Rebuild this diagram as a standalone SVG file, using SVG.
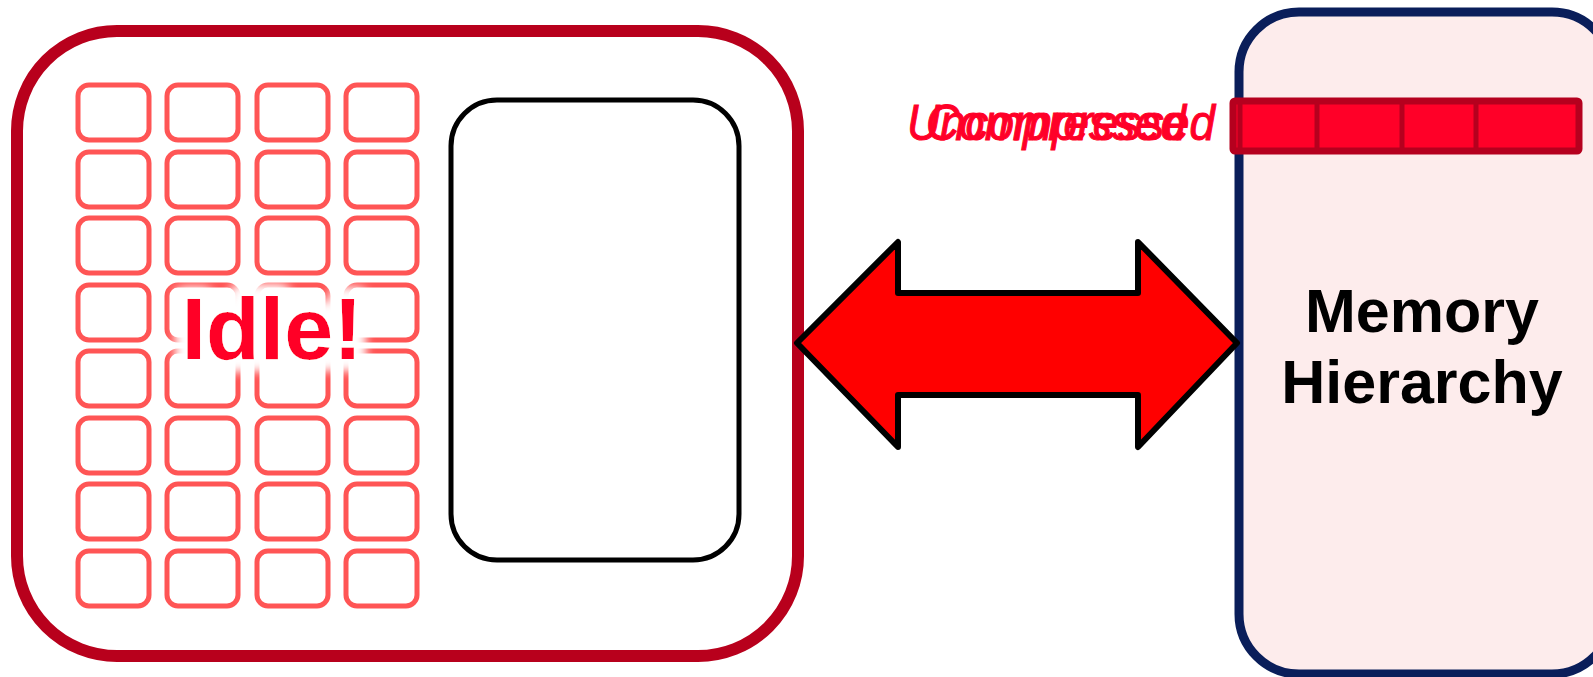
<svg xmlns="http://www.w3.org/2000/svg" width="1593" height="677" viewBox="0 0 1593 677">
<defs>
<style>
.core{fill:none;stroke:#FF5555;stroke-width:5}
.lbl{font-family:"Liberation Sans",Arial,sans-serif}
.cmp{font-size:50px;font-style:italic;fill:#FF0028;stroke:#FF0028;stroke-width:1}
</style>
<filter id="halo" x="-30%" y="-40%" width="160%" height="180%">
<feMorphology in="SourceAlpha" operator="dilate" radius="9" result="d"/>
<feGaussianBlur in="d" stdDeviation="6" result="b"/>
<feFlood flood-color="#ffffff"/>
<feComposite in2="b" operator="in" result="w"/>
<feMerge><feMergeNode in="w"/><feMergeNode in="w"/><feMergeNode in="SourceGraphic"/></feMerge>
</filter>
</defs>
<rect width="1593" height="677" fill="#ffffff"/>
<g id="gpu">
<rect x="17" y="31" width="781" height="625" rx="100" fill="#ffffff" stroke="#B8001C" stroke-width="12"/>
<g id="cores">
<rect class="core" x="78" y="85" width="71" height="55" rx="11"/><rect class="core" x="167" y="85" width="71" height="55" rx="11"/><rect class="core" x="257" y="85" width="71" height="55" rx="11"/><rect class="core" x="346" y="85" width="71" height="55" rx="11"/>
<rect class="core" x="78" y="152" width="71" height="55" rx="11"/><rect class="core" x="167" y="152" width="71" height="55" rx="11"/><rect class="core" x="257" y="152" width="71" height="55" rx="11"/><rect class="core" x="346" y="152" width="71" height="55" rx="11"/>
<rect class="core" x="78" y="218" width="71" height="55" rx="11"/><rect class="core" x="167" y="218" width="71" height="55" rx="11"/><rect class="core" x="257" y="218" width="71" height="55" rx="11"/><rect class="core" x="346" y="218" width="71" height="55" rx="11"/>
<rect class="core" x="78" y="285" width="71" height="55" rx="11"/><rect class="core" x="167" y="285" width="71" height="55" rx="11"/><rect class="core" x="257" y="285" width="71" height="55" rx="11"/><rect class="core" x="346" y="285" width="71" height="55" rx="11"/>
<rect class="core" x="78" y="351" width="71" height="55" rx="11"/><rect class="core" x="167" y="351" width="71" height="55" rx="11"/><rect class="core" x="257" y="351" width="71" height="55" rx="11"/><rect class="core" x="346" y="351" width="71" height="55" rx="11"/>
<rect class="core" x="78" y="418" width="71" height="55" rx="11"/><rect class="core" x="167" y="418" width="71" height="55" rx="11"/><rect class="core" x="257" y="418" width="71" height="55" rx="11"/><rect class="core" x="346" y="418" width="71" height="55" rx="11"/>
<rect class="core" x="78" y="484" width="71" height="55" rx="11"/><rect class="core" x="167" y="484" width="71" height="55" rx="11"/><rect class="core" x="257" y="484" width="71" height="55" rx="11"/><rect class="core" x="346" y="484" width="71" height="55" rx="11"/>
<rect class="core" x="78" y="551" width="71" height="55" rx="11"/><rect class="core" x="167" y="551" width="71" height="55" rx="11"/><rect class="core" x="257" y="551" width="71" height="55" rx="11"/><rect class="core" x="346" y="551" width="71" height="55" rx="11"/>
</g>
<rect id="cache" x="451" y="100" width="288" height="460" rx="46" fill="none" stroke="#000000" stroke-width="5"/>
<text class="lbl" x="272" y="359" font-size="88" font-weight="bold" fill="#FF0028" text-anchor="middle" filter="url(#halo)">Idle!</text>
</g>
<g id="memory">
<rect x="1239" y="12" width="373" height="662" rx="60" fill="#FDECEC" stroke="#0A1E5A" stroke-width="9"/>
<text class="lbl" font-size="61" font-weight="bold" fill="#000000" text-anchor="middle"><tspan x="1422" y="332">Memory</tspan><tspan x="1422" y="403">Hierarchy</tspan></text>
</g>
<g id="data">
<rect x="1233" y="101" width="346" height="50" rx="2" fill="#FF0028" stroke="#B5001E" stroke-width="7"/>
<g stroke="#B5001E" stroke-width="5"><line x1="1240" y1="101" x2="1240" y2="151"/><line x1="1317" y1="101" x2="1317" y2="151"/><line x1="1402" y1="101" x2="1402" y2="151"/><line x1="1476" y1="101" x2="1476" y2="151"/></g>
<text class="lbl cmp"><tspan x="907" y="140" textLength="308" lengthAdjust="spacingAndGlyphs">Uncompressed</tspan></text>
<text class="lbl cmp"><tspan x="926" y="140" textLength="260" lengthAdjust="spacingAndGlyphs">Compressed</tspan></text>
</g>
<g id="connectors">
<path d="M797,343 L898,242 L898,293 L1138,293 L1138,242 L1237,343 L1138,447 L1138,395 L898,395 L898,447 Z" fill="#FF0000" stroke="#000000" stroke-width="6" stroke-linejoin="round"/>
</g>
</svg>
